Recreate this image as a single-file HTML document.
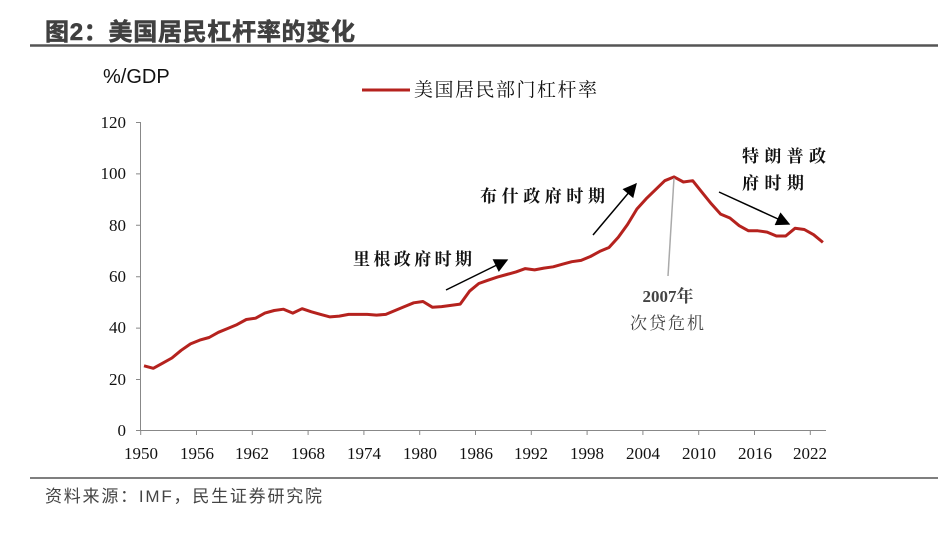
<!DOCTYPE html>
<html><head><meta charset="utf-8"><style>
body{margin:0;background:#fff;width:938px;height:533px;overflow:hidden}
</style></head><body>
<svg width="938" height="533" viewBox="0 0 938 533" xmlns="http://www.w3.org/2000/svg">
<text x="45" y="40" font-family="Liberation Sans, Noto Sans CJK SC, sans-serif" font-weight="bold" font-size="24" fill="#404040" stroke="#404040" stroke-width="0.6" textLength="310">图2：美国居民杠杆率的变化</text>
<line x1="30" y1="45.5" x2="938" y2="45.5" stroke="#555" stroke-width="2.5"/>
<text x="103" y="83" font-family="Liberation Sans, sans-serif" font-size="20" fill="#111">%/GDP</text>
<line x1="362" y1="90" x2="410" y2="90" stroke="#b5221e" stroke-width="3"/>
<text x="414" y="96" font-family="Liberation Serif, Noto Serif CJK SC, serif" font-size="19" fill="#111" textLength="183">美国居民部门杠杆率</text>
<g stroke="#888" stroke-width="1" fill="none">
<path d="M136 122.5H140.5V430.5H826"/>
<path d="M136 173.9H140.5M136 225.3H140.5M136 276.7H140.5M136 328.1H140.5M136 379.5H140.5M136 430.5H140.5"/>
<path d="M140.7 430v5M196.5 430v5M252.3 430v5M308.1 430v5M363.9 430v5M419.7 430v5M475.5 430v5M531.3 430v5M587.1 430v5M642.9 430v5M698.7 430v5M754.5 430v5M810.3 430v5"/>
</g>
<g font-family="Liberation Serif, serif" font-size="17" fill="#111" text-anchor="end">
<text x="126" y="128">120</text><text x="126" y="179">100</text><text x="126" y="231">80</text><text x="126" y="282">60</text><text x="126" y="333">40</text><text x="126" y="385">20</text><text x="126" y="436">0</text>
</g>
<g font-family="Liberation Serif, serif" font-size="17" fill="#111" text-anchor="middle">
<text x="141" y="459">1950</text><text x="197" y="459">1956</text><text x="252" y="459">1962</text><text x="308" y="459">1968</text><text x="364" y="459">1974</text><text x="420" y="459">1980</text><text x="476" y="459">1986</text><text x="531" y="459">1992</text><text x="587" y="459">1998</text><text x="643" y="459">2004</text><text x="699" y="459">2010</text><text x="755" y="459">2016</text><text x="810" y="459">2022</text>
</g>
<polyline id="s" fill="none" stroke="#b5221e" stroke-width="3" stroke-linejoin="round" points=""/>
<script>
var d=[25,24,26,28,31,33.5,35,36,38,39.5,41,43,43.5,45.5,46.5,47,45.5,47.2,46,45,44,44.3,45,45,45,44.7,45,46.5,48,49.5,50,47.8,48,48.5,49,54,57,58.3,59.5,60.5,61.5,62.8,62.3,63,63.5,64.5,65.5,66,67.5,69.5,71,75,80,86,90,93.5,97,98.5,96.5,97,92.5,88,84,82.5,79.5,77.5,77.5,77,75.5,75.5,78.5,78,76,73];
document.getElementById('s').setAttribute('points',d.map(function(v,i){return (144+i*9.3).toFixed(1)+','+(430-v*2.57).toFixed(1)}).join(' '));
</script>
<defs>
<marker id="b" viewBox="0 0 10 10" refX="9" refY="5" markerWidth="16" markerHeight="14" orient="auto" markerUnits="userSpaceOnUse"><path d="M0,0L10,5L0,10z" fill="#000"/></marker></defs>
<g font-family="Liberation Serif, Noto Serif CJK SC, serif" font-weight="bold" font-size="17" fill="#111">
<text x="353" y="265" textLength="119">里根政府时期</text>
<text x="480" y="202" textLength="125">布什政府时期</text>
<text x="742" y="162" textLength="84">特朗普政</text>
<text x="742" y="189" textLength="62">府时期</text>
</g>
<g stroke="#000" stroke-width="1.5">
<line x1="446" y1="290" x2="507" y2="260" marker-end="url(#b)"/>
<line x1="593" y1="235" x2="636" y2="184" marker-end="url(#b)"/>
<line x1="719" y1="192" x2="789" y2="224" marker-end="url(#b)"/>
</g>
<line x1="668" y1="276" x2="674" y2="178" stroke="#aaa" stroke-width="1.5"/>
<text x="668" y="302" text-anchor="middle" font-family="Liberation Serif, Noto Serif CJK SC, serif" font-weight="bold" font-size="17" fill="#444">2007年</text>
<text x="668" y="329" text-anchor="middle" font-family="Liberation Serif, Noto Serif CJK SC, serif" font-size="17" fill="#444" letter-spacing="2">次贷危机</text>
<line x1="30" y1="478" x2="938" y2="478" stroke="#555" stroke-width="1.5"/>
<text x="45" y="502" font-family="Liberation Sans, Noto Sans CJK SC, sans-serif" font-size="17" fill="#444" textLength="277">资料来源：IMF，民生证券研究院</text>
</svg>
</body></html>
